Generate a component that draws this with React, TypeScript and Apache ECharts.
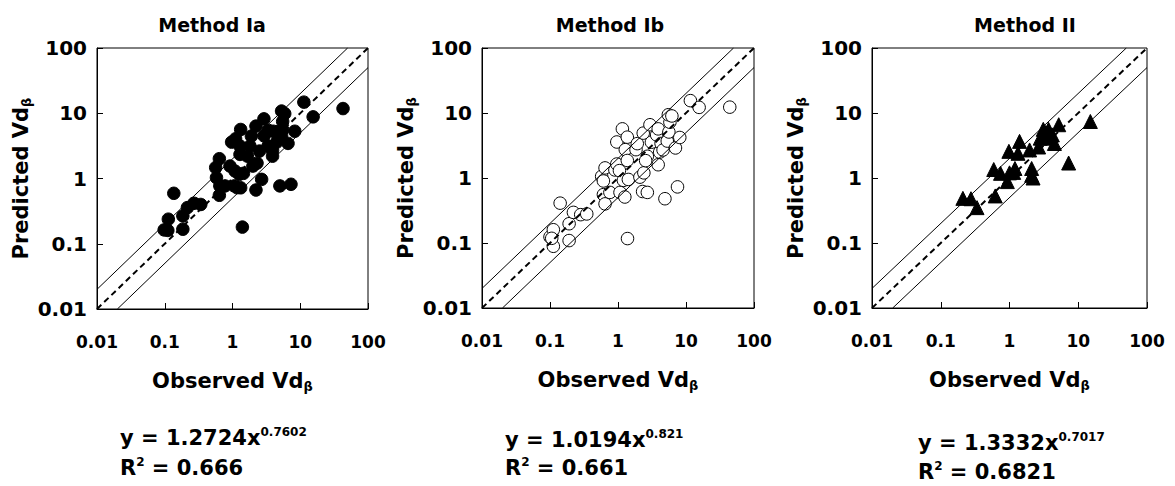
import React, { useEffect, useRef } from "react";
import * as echarts from "echarts";

const tickLabels = ["0.01", "0.1", "1", "10", "100"];
const panelTitles = ["Method Ia", "Method Ib", "Method II"];
const equations = ["y = 1.2724x", "y = 1.0194x", "y = 1.3332x"];
const exponents = ["0.7602", "0.821", "0.7017"];
const rSquared = ["0.666", "0.661", "0.6821"];

const obsIa = [0.098, 0.111, 0.113, 0.136, 0.185, 0.185, 0.216, 0.27, 0.34, 0.565, 0.64, 0.58, 0.65, 0.64, 0.776, 0.918, 0.97, 1.11, 1.32, 1.29, 1.29, 1.09, 1.26, 1.06, 1.17, 1.32, 1.4, 1.45, 1.81, 1.9, 2.22, 2.0, 2.3, 2.22, 2.69, 2.5, 2.91, 2.93, 3.35, 3.35, 3.9, 3.9, 4.0, 4.5, 4.8, 5.3, 5.9, 5.5, 5.5, 5.3, 5.0, 6.6, 7.3, 8.3, 11.3, 15.5, 42.8, 1.66];
const predIa = [0.163, 0.16, 0.238, 0.593, 0.167, 0.267, 0.358, 0.417, 0.4, 1.47, 2.01, 1.03, 0.77, 0.553, 0.77, 1.55, 3.61, 4.06, 5.64, 3.14, 2.34, 1.3, 1.16, 0.77, 0.724, 0.72, 0.18, 1.2, 3.14, 4.47, 6.35, 1.55, 1.72, 0.667, 0.97, 2.63, 8.2, 4.5, 5.5, 3.14, 2.2, 2.7, 5.3, 3.6, 5.3, 10.8, 9.85, 7.5, 5.6, 4.5, 0.77, 3.45, 0.815, 5.3, 14.8, 8.8, 11.8, 2.2];

const obsIb = [0.1, 0.112, 0.112, 0.106, 0.141, 0.191, 0.191, 0.221, 0.283, 0.347, 0.575, 0.61, 0.645, 0.61, 0.645, 0.76, 0.9, 0.96, 0.96, 1.05, 1.07, 1.16, 1.2, 1.26, 1.28, 1.37, 1.37, 1.42, 1.38, 1.84, 1.92, 2.1, 2.3, 2.4, 2.35, 2.7, 2.7, 2.55, 2.95, 3.1, 3.7, 3.9, 3.9, 4.1, 4.3, 4.6, 4.9, 5.3, 5.6, 5.8, 5.5, 6.2, 7.0, 7.5, 8.1, 11.6, 15.6, 44];
const predIb = [0.124, 0.16, 0.089, 0.118, 0.41, 0.198, 0.109, 0.296, 0.273, 0.28, 1.06, 0.9, 1.43, 0.555, 0.4, 0.6, 1.33, 1.64, 3.58, 1.3, 0.6, 5.7, 0.92, 0.51, 2.73, 4.25, 1.86, 0.95, 0.117, 2.73, 3.38, 1.03, 0.62, 1.2, 4.9, 0.6, 2.16, 1.85, 6.6, 3.55, 4.6, 5.7, 1.6, 2.5, 3.4, 2.7, 0.48, 3.7, 5.1, 7.2, 9.4, 9.0, 2.9, 0.73, 4.2, 15.5, 12.2, 12.3];

const obsII = [0.21, 0.275, 0.337, 0.59, 0.62, 0.74, 0.93, 0.98, 1.0, 1.15, 1.2, 1.4, 1.33, 1.96, 2.1, 2.1, 2.2, 2.65, 2.8, 3.1, 3.3, 3.5, 3.7, 4.2, 4.5, 5.2, 7.25, 15];
const predII = [0.486, 0.48, 0.35, 1.35, 0.53, 1.18, 0.88, 2.57, 1.2, 1.22, 1.4, 3.66, 2.4, 2.7, 1.4, 1.1, 1.0, 3.0, 4.1, 5.6, 5.0, 4.1, 5.6, 4.6, 3.4, 6.6, 1.7, 7.4];

const identityLine = [[0.01, 0.01], [100, 100]];
const upperLine = [[0.01, 0.02], [50, 100]];
const lowerLine = [[0.02, 0.01], [100, 50]];

const FONT = "DejaVu Sans";

const grids = [
  { left: 97, top: 48, width: 271, height: 261 },
  { left: 482, top: 48, width: 272, height: 260 },
  { left: 872, top: 48, width: 275, height: 260 },
];
const titleX = [212, 610, 1025];
const eqPos = [
  { x: 120, y1: 438, y2: 468 },
  { x: 505, y1: 440, y2: 468 },
  { x: 918, y1: 443, y2: 472 },
];

const nameRich = {
  a: { fontFamily: FONT, fontWeight: "bold", fontSize: 21, color: "#000", lineHeight: 25 },
  b: { fontFamily: FONT, fontWeight: "bold", fontSize: 13, color: "#000", lineHeight: 6, verticalAlign: "bottom" },
};
const eqRich = {
  a: { fontFamily: FONT, fontWeight: "bold", fontSize: 21, color: "#000", lineHeight: 25 },
  s: { fontFamily: FONT, fontWeight: "bold", fontSize: 12, color: "#000", lineHeight: 14, verticalAlign: "top" },
};

const fmt = (v: number) => {
  const i = Math.round(Math.log10(v)) + 2;
  return tickLabels[i] ?? String(v);
};

export default function App() {
  const ref = useRef<HTMLDivElement>(null);
  useEffect(() => {
    if (!ref.current) return;
    const chart = echarts.init(ref.current, undefined, { renderer: "svg" });
    const data = [
      { obs: obsIa, pred: predIa, symbol: "circle", size: 12.5, fill: "#000" },
      { obs: obsIb, pred: predIb, symbol: "circle", size: 12.5, fill: "#fff" },
      { obs: obsII, pred: predII, symbol: "triangle", size: 14, fill: "#000" },
    ];
    const xAxis: any[] = [];
    const yAxis: any[] = [];
    const series: any[] = [];
    const graphic: any[] = [];
    grids.forEach((g, i) => {
      xAxis.push({
        type: "log", logBase: 10, min: 0.01, max: 100, gridIndex: i,
        axisLine: { show: true, lineStyle: { color: "#000", width: 1 } },
        axisTick: { show: true, inside: true, length: 6, lineStyle: { color: "#000" } },
        axisLabel: { color: "#000", fontFamily: FONT, fontWeight: "bold", fontSize: 17, margin: 24, formatter: fmt, showMinLabel: true, showMaxLabel: true },
        splitLine: { show: false },
        name: "{a|Observed Vd}{b|β}", nameLocation: "middle", nameGap: 59,
        nameTextStyle: { rich: nameRich },
      });
      yAxis.push({
        type: "log", logBase: 10, min: 0.01, max: 100, gridIndex: i,
        axisLine: { show: true, lineStyle: { color: "#000", width: 1 } },
        axisTick: { show: true, inside: true, length: 6, lineStyle: { color: "#000" } },
        axisLabel: { color: "#000", fontFamily: FONT, fontWeight: "bold", fontSize: 20, margin: 10, formatter: fmt, showMinLabel: true, showMaxLabel: true },
        splitLine: { show: false },
        name: "{a|Predicted Vd}{b|β}", nameLocation: "middle", nameGap: 64,
        nameTextStyle: { rich: nameRich },
      });
      const d = data[i];
      series.push({
        type: "line", xAxisIndex: i, yAxisIndex: i, data: identityLine, symbol: "none", silent: true,
        lineStyle: { color: "#000", width: 2, type: [6, 4] },
      });
      series.push({
        type: "line", xAxisIndex: i, yAxisIndex: i, data: upperLine, symbol: "none", silent: true,
        lineStyle: { color: "#000", width: 1 },
      });
      series.push({
        type: "line", xAxisIndex: i, yAxisIndex: i, data: lowerLine, symbol: "none", silent: true,
        lineStyle: { color: "#000", width: 1 },
      });
      series.push({
        type: "scatter", xAxisIndex: i, yAxisIndex: i, symbol: d.symbol, symbolSize: d.size,
        data: d.obs.map((x, k) => [x, d.pred[k]]),
        itemStyle: { color: d.fill, borderColor: "#000", borderWidth: 1, opacity: 1 },
      });
      graphic.push({
        type: "text", x: titleX[i], y: 25,
        style: { text: panelTitles[i], fontFamily: FONT, fontWeight: "bold", fontSize: 19, fill: "#000", align: "center", verticalAlign: "middle" },
      });
      graphic.push({
        type: "text", x: eqPos[i].x, y: eqPos[i].y1,
        style: { text: `{a|${equations[i]}}{s|${exponents[i]}}`, rich: eqRich, verticalAlign: "middle", align: "left" },
      });
      graphic.push({
        type: "text", x: eqPos[i].x, y: eqPos[i].y2,
        style: { text: `{a|R}{s|2}{a| = ${rSquared[i]}}`, rich: eqRich, verticalAlign: "middle", align: "left" },
      });
    });
    chart.setOption({
      animation: false,
      backgroundColor: "#fff",
      grid: grids.map((g) => ({ ...g, show: true, borderColor: "#000", borderWidth: 1, backgroundColor: "transparent", containLabel: false })),
      xAxis, yAxis, series, graphic,
    });
    return () => chart.dispose();
  }, []);
  return <div ref={ref} style={{ position: "fixed", left: 0, top: 0, width: 1175, height: 486, background: "#fff" }} />;
}
